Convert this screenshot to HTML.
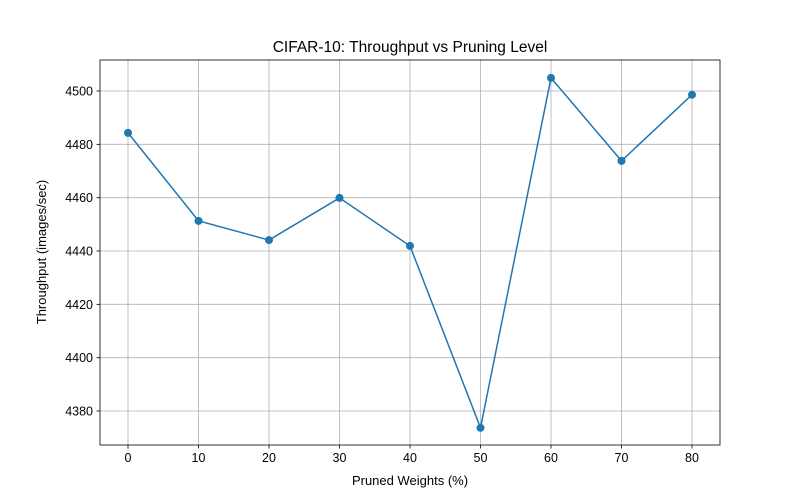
<!DOCTYPE html>
<html><head><meta charset="utf-8"><style>body{margin:0;background:#fff}svg{display:block;font-family:"Liberation Sans","DejaVu Sans",sans-serif}</style></head>
<body>
<svg id="chart" width="800" height="500"></svg>
<script>
const categories=[0,10,20,30,40,50,60,70,80];
const throughput=[4484.3,4451.3,4444.1,4459.9,4441.9,4373.7,4504.9,4473.8,4498.6];
const xTicks=[0,10,20,30,40,50,60,70,80];
const yTicks=[4380,4400,4420,4440,4460,4480,4500];
const L=100,R=720,T=60,B=445;
const xs=v=>128+(v-0)*(692-128)/80;
const ys=v=>411-(v-4380)*(411-91)/120;
const svg=document.getElementById('chart');
const NS='http://www.w3.org/2000/svg';
function mk(t,a,p){const e=document.createElementNS(NS,t);for(const k in a)e.setAttribute(k,a[k]);(p||svg).appendChild(e);return e;}
const grid=mk('g',{});


xTicks.forEach(v=>{const x=xs(v);
mk('line',{x1:x,x2:x,y1:T,y2:B,stroke:'#b0b0b0','stroke-width':0.8},grid);
mk('line',{x1:x,x2:x,y1:B,y2:B+3.5,stroke:'#000','stroke-width':0.8});
const t=mk('text',{x:x,y:B+17,'text-anchor':'middle','font-size':12.5});t.textContent=v;

});
yTicks.forEach(v=>{const y=ys(v);
mk('line',{x1:L,x2:R,y1:y,y2:y,stroke:'#b0b0b0','stroke-width':0.8},grid);
mk('line',{x1:L-3.5,x2:L,y1:y,y2:y,stroke:'#000','stroke-width':0.8});
const t=mk('text',{x:L-7,y:y+4.5,'text-anchor':'end','font-size':12.5});t.textContent=v;

});
const fr=mk('rect',{x:L,y:T,width:R-L,height:B-T,fill:'none',stroke:'#000','stroke-width':0.8});


const pts=categories.map((c,i)=>xs(c)+','+ys(throughput[i])).join(' ');
const line=mk('polyline',{points:pts,fill:'none',stroke:'#1f77b4','stroke-width':1.5});


categories.forEach((c,i)=>{const p=mk('circle',{cx:xs(c),cy:ys(throughput[i]),r:4,fill:'#1f77b4'});

});
const ti=mk('text',{x:410,y:52,'text-anchor':'middle','font-size':15.5});ti.textContent='CIFAR-10: Throughput vs Pruning Level';


const xl=mk('text',{x:410,y:485,'text-anchor':'middle','font-size':13});xl.textContent='Pruned Weights (%)';


const yl=mk('text',{x:0,y:0,'text-anchor':'middle','font-size':13,transform:'translate(46,252) rotate(-90)'});yl.textContent='Throughput (images/sec)';


</script>
</body></html>
